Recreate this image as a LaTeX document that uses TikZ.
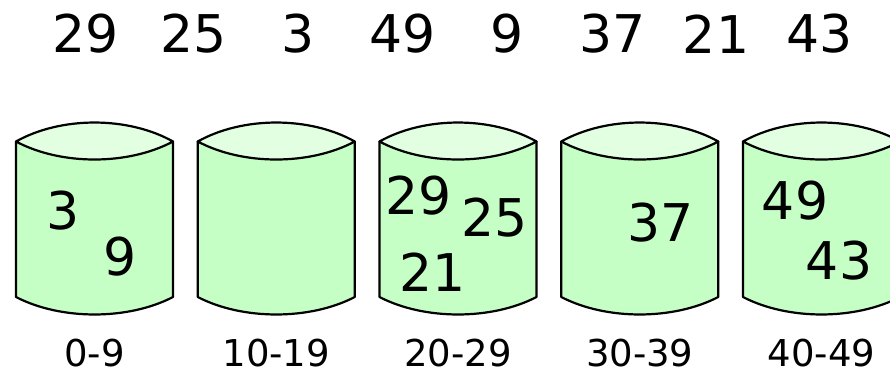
\documentclass[tikz,border=0pt]{standalone}
\usepackage{fontspec}
\setmainfont{DejaVu Sans}
\usetikzlibrary{positioning}

\definecolor{bucketgreen}{HTML}{C6FFC6}
\definecolor{lidgreen}{HTML}{E2FFE2}

\tikzset{
  num/.style={inner sep=0pt, font=\fontsize{52}{52}\selectfont},
  rangelabel/.style={inner sep=0pt, font=\fontsize{37}{37}\selectfont},
  bucket/.style={draw=black, line width=2.2pt, fill=bucketgreen, line join=round},
  lid/.style={draw=black, line width=2.2pt, fill=lidgreen, line join=round},
}

\begin{document}
\begin{tikzpicture}[x=1pt, y=-1pt]
  \useasboundingbox (0,0) rectangle (890,373);
  \begin{scope}
  \clip (0,0) rectangle (890,373);
  % buckets
  \foreach \i in {1,...,5} {
    \pgfmathsetmacro{\xl}{16+181.75*(\i-1)}
    \pgfmathsetmacro{\xr}{\xl+157}
    \draw[bucket] (\xl,141.5) -- (\xl,297)
      .. controls (\xl+45,320.3) and (\xr-45,320.3) .. (\xr,297)
      -- (\xr,141.5) -- cycle;
    \draw[lid] (\xl,141.5) .. controls (\xl+45,116.2) and (\xr-45,116.2) .. (\xr,141.5)
      .. controls (\xr-45,165.5) and (\xl+45,165.5) .. cycle;
  }
  \end{scope}
  % input row
  \foreach \v/\x [count=\i] in {29/86, 25/194, 3/298.5, 49/403, 9/507.5, 37/612.5, 21/716, 43/819.5}
    \node[num] (in-\i) at (\x,34) {\v};
  % bucket ranges
  \foreach \lbl/\x [count=\i] in {0-9/94.5, 10-19/276.25, 20-29/458, 30-39/639.75, 40-49/821.5}
    \node[rangelabel] (range-\i) at (\x,353) {\lbl};
  % contents
  \node[num] (b1-3)  at (63.5,211)   {3};
  \node[num] (b1-9)  at (120,256.5)  {9};
  \node[num] (b3-29) at (419,196)    {29};
  \node[num] (b3-25) at (495,217.5)  {25};
  \node[num] (b3-21) at (432.5,272.5) {21};
  \node[num] (b4-37) at (660.5,222.5) {37};
  \node[num] (b5-49) at (795,201)    {49};
  \node[num] (b5-43) at (839,261)    {43};
\end{tikzpicture}
\end{document}
